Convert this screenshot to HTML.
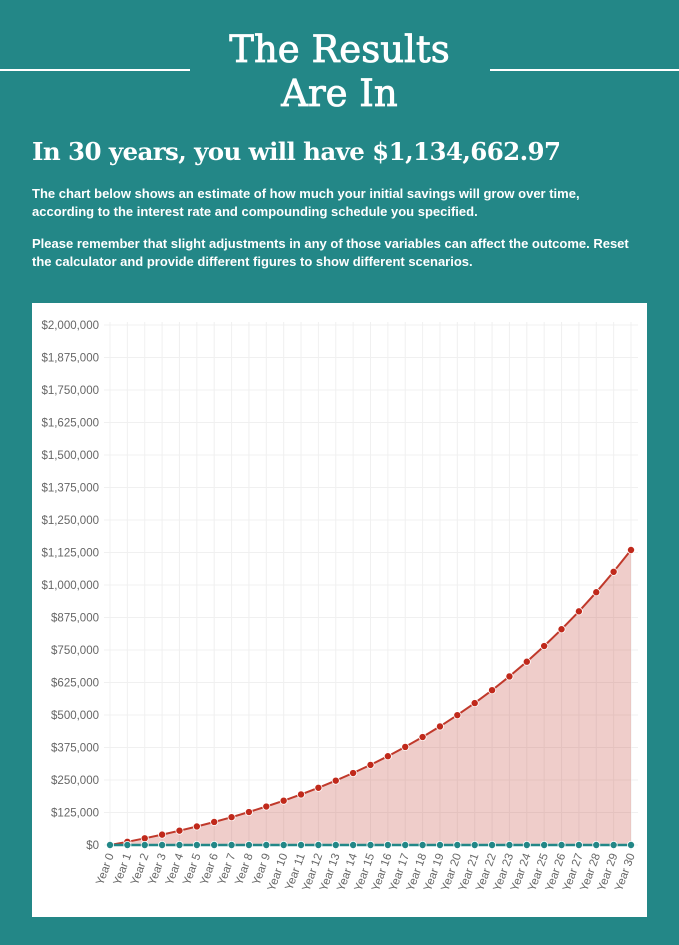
<!DOCTYPE html>
<html><head><meta charset="utf-8"><style>
html,body{margin:0;padding:0}
body{width:679px;height:945px;background:#238787;position:relative;overflow:hidden;font-family:"Liberation Sans",sans-serif;color:#fff}
.line{position:absolute;top:69px;height:2px;background:#fff}
h1{position:absolute;left:0;width:679px;top:28px;margin:0;text-align:center;font-family:"DejaVu Serif","Liberation Serif",serif;font-weight:normal;font-size:37px;line-height:44px;-webkit-text-stroke:0.8px #fff}
h2{position:absolute;left:32px;top:136px;margin:0;font-family:"DejaVu Serif","Liberation Serif",serif;font-weight:bold;font-size:24.5px;line-height:32px;letter-spacing:-0.6px;white-space:nowrap}
p{position:absolute;left:32px;margin:0;font-weight:bold;font-size:13px;line-height:17.5px;white-space:nowrap}
#box{position:absolute;left:32px;top:303px;width:615px;height:614px;background:#fff}
</style></head><body>
<div class="line" style="left:0;width:190px"></div>
<div class="line" style="left:490px;width:189px"></div>
<h1>The Results<br>Are In</h1>
<h2>In 30 years, you will have $1,134,662.97</h2>
<p style="top:185px">The chart below shows an estimate of how much your initial savings will grow over time,<br>according to the interest rate and compounding schedule you specified.</p>
<p style="top:235px">Please remember that slight adjustments in any of those variables can affect the outcome. Reset<br>the calculator and provide different figures to show different scenarios.</p>
<div id="box"></div>
<svg id="s" width="679" height="945" style="position:absolute;left:0;top:0"></svg>
<script>
var s='',x0=110,dx=(631-110)/30,y0=845,h=520/2000000;
for(var i=0;i<=16;i++){var y=y0-i*32.5;s+='<line x1="104" x2="638" y1="'+y+'" y2="'+y+'" stroke="#f0f0f0" stroke-width="1"/>';
var v=i*125000;var t='$'+v.toLocaleString('en-US');s+='<text x="99" y="'+(y+4)+'" text-anchor="end" font-size="11.5" fill="#666" font-family="Liberation Sans">'+t+'</text>';}
for(var i=0;i<=30;i++){var x=x0+i*dx;s+='<line x1="'+x+'" x2="'+x+'" y1="322" y2="850" stroke="#f0f0f0"/>';
s+='<text transform="translate('+(x+4)+',855) rotate(-70)" text-anchor="end" font-size="11.5" fill="#666" font-family="Liberation Sans">Year '+i+'</text>';}
var r=0.068,P=1134662.97*r/(Math.pow(1+r,30)-1),pts=[];
for(var i=0;i<=30;i++){var v=P*(Math.pow(1+r,i)-1)/r;pts.push([x0+i*dx,y0-v*h]);}
var d=pts.map(function(p){return p[0].toFixed(1)+','+p[1].toFixed(1)}).join(' ');
s+='<polygon points="'+d+' 631,845 110,845" fill="rgba(192,57,43,0.25)"/>';
s+='<polyline points="'+d+'" fill="none" stroke="#c0392b" stroke-width="2"/>';
pts.forEach(function(p){s+='<circle cx="'+p[0]+'" cy="'+p[1]+'" r="3.6" fill="#c0291b" stroke="#fff" stroke-width="0.8"/>';});
s+='<line x1="110" x2="631" y1="845" y2="845" stroke="#238787" stroke-width="2.5"/>';
for(var i=0;i<=30;i++){s+='<circle cx="'+(x0+i*dx)+'" cy="845" r="3.6" fill="#238787" stroke="#fff" stroke-width="0.8"/>';}
document.getElementById('s').innerHTML=s;
</script>
</body></html>
